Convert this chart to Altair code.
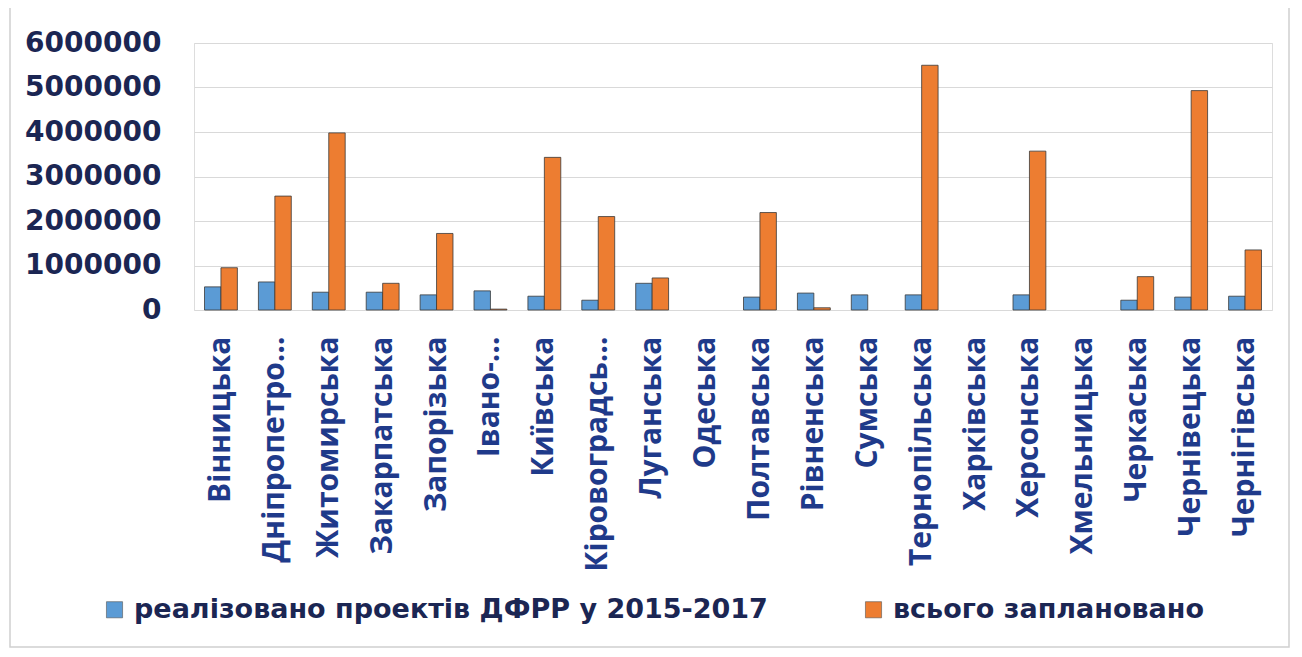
import altair as alt
import pandas as pd

regions = ["Вінницька", "Дніпропетро…", "Житомирська", "Закарпатська", "Запорізька",
           "Івано-…", "Київська", "Кіровоградсь…", "Луганська", "Одеська",
           "Полтавська", "Рівненська", "Сумська", "Тернопільська", "Харківська",
           "Херсонська", "Хмельницька", "Черкаська", "Чернівецька", "Чернігівська"]
realized = [520000, 630000, 400000, 400000, 340000, 430000, 310000, 220000, 600000, 0,
            290000, 380000, 340000, 340000, 0, 340000, 0, 220000, 290000, 310000]
planned = [950000, 2560000, 3980000, 600000, 1720000, 20000, 3430000, 2100000, 720000, 0,
           2190000, 50000, 0, 5500000, 0, 3570000, 0, 750000, 4930000, 1350000]
series = ["реалізовано проектів ДФРР у 2015-2017", "всього заплановано"]
y_ticks = [0, 1000000, 2000000, 3000000, 4000000, 5000000, 6000000]

rows = []
for i, r in enumerate(regions):
    rows.append({"region": r, "series": series[0], "value": realized[i]})
    rows.append({"region": r, "series": series[1], "value": planned[i]})
df = pd.DataFrame(rows)

NAVY = "#1b2653"
BLUE_TXT = "#1f3a8a"

bars = alt.Chart(df).transform_filter("datum.value > 0").mark_bar(
    stroke="#3a3a3a", strokeWidth=0.8
).encode(
    x=alt.X("region:N", sort=regions, title=None,
            scale=alt.Scale(domain=regions, paddingInner=0.39, paddingOuter=0.195),
            axis=alt.Axis(labelAngle=-90, labelAlign="right", labelBaseline="middle",
                          labelFont="Open Sans", labelFontSize=30, labelFontWeight="bold",
                          labelColor=BLUE_TXT, labelPadding=26, ticks=False,
                          domain=False, labelLimit=400)),
    xOffset=alt.XOffset("series:N", sort=series,
                        scale=alt.Scale(domain=series, paddingInner=0, paddingOuter=0)),
    y=alt.Y("value:Q", title=None,
            scale=alt.Scale(domain=[0, 6000000], nice=False),
            axis=alt.Axis(values=y_ticks, format="d", labelFont="DejaVu Sans", labelFontSize=28,
                          labelFontWeight="bold", labelColor=NAVY, labelPadding=33,
                          ticks=False, domain=False, gridColor="#d9d9d9", gridWidth=1)),
    color=alt.Color("series:N", sort=series,
                    scale=alt.Scale(domain=series, range=["#5b9bd5", "#ed7d31"]),
                    legend=alt.Legend(title=None, orient="none", direction="horizontal",
                                      legendX=-93, legendY=553, symbolType="square",
                                      symbolSize=260, symbolStrokeColor="#555555",
                                      symbolStrokeWidth=0.6,
                                      labelFont="DejaVu Sans", labelFontSize=27,
                                      labelFontWeight="bold",
                                      labelColor=NAVY, columnPadding=92, labelLimit=800,
                                      symbolOffset=0, labelOffset=6)),
)

border = alt.Chart(pd.DataFrame({"k": [0]})).mark_rect(
    fill=None, stroke="#d0d0d0", strokeWidth=1.5
).encode(x=alt.value(-184), x2=alt.value(1095), y=alt.value(-36), y2=alt.value(604))

chart = alt.layer(border, bars).properties(
    width=1078, height=267,
    padding={"left": 186, "top": 35, "right": 20, "bottom": 338},
    autosize=alt.AutoSizeParams(type="none"),
).configure_view(stroke=None).configure(background="white")

chart.save("out.html", embed_options={"renderer": "svg", "actions": False})
